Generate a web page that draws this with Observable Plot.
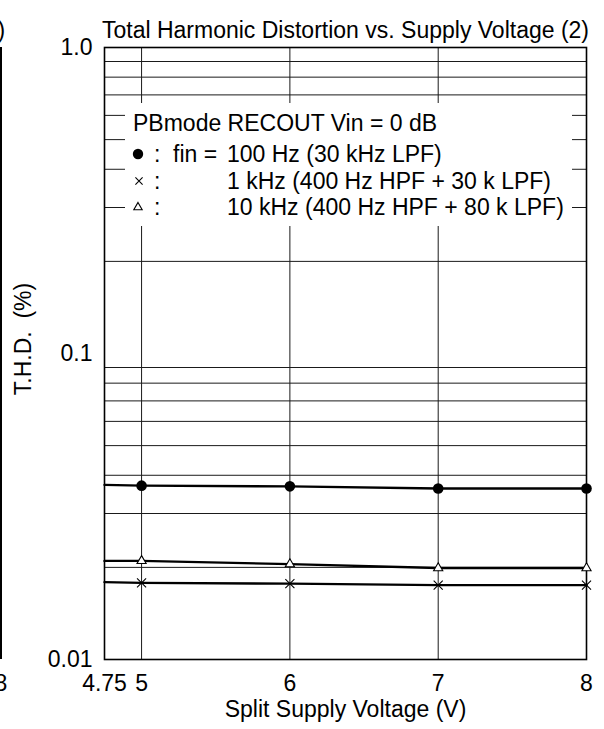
<!DOCTYPE html>
<html><head><meta charset="utf-8">
<script src="https://cdn.jsdelivr.net/npm/d3@7"></script>
<script src="https://cdn.jsdelivr.net/npm/@observablehq/plot@0.6"></script>
<style>
body{margin:0;background:#fff;}
#wrap{position:relative;width:604px;height:729px;overflow:hidden;font-family:"Liberation Sans",Arial,sans-serif;color:#000;background:#fff;}
#wrap svg{display:block;}
#legend{position:absolute;left:125px;top:103px;width:447px;height:123px;background:#fff;font-size:23px;}
.row{position:absolute;height:28px;line-height:28px;white-space:pre;}
.sym{position:absolute;}
#edge{position:absolute;left:0;top:47px;width:1.5px;height:612px;background:#000;}
#ylab{position:absolute;left:23px;top:339px;font-size:23px;line-height:23px;white-space:pre;transform:translate(-50%,-50%) rotate(-90deg);}
</style></head><body><div id="wrap"></div>
<script>
// ---- data ----
const volts = [4.75, 5, 6, 7, 8];
const thdFin100 = [0.0372, 0.0370, 0.0368, 0.0362, 0.0362];
const thd1k = [0.0179, 0.0178, 0.0177, 0.0175, 0.0175];
const thd10k = [0.0210, 0.0210, 0.0205, 0.0199, 0.0199];
const xTicks = [4.75, 5, 6, 7, 8];
const xGrid = [5, 6, 7];
const yTicks = [0.01, 0.1, 1];
const yTickLabels = ["0.01", "0.1", "1.0"];
const yGrid = [0.02, 0.03, 0.04, 0.05, 0.06, 0.07, 0.08, 0.09, 0.2, 0.3, 0.4, 0.5, 0.6, 0.7, 0.8, 0.9];
const title = "Total Harmonic Distortion vs. Supply Voltage (2)";
const xLabel = "Split Supply Voltage (V)";
const yLabel = "T.H.D.  (%)";
const legendTitle = "PBmode RECOUT Vin = 0 dB";
const legendRows = [
  {sym: "dot", pre: "fin =", text: "100 Hz (30 kHz LPF)"},
  {sym: "times", pre: "", text: "1 kHz (400 Hz HPF + 30 k LPF)"},
  {sym: "triangle", pre: "", text: "10 kHz (400 Hz HPF + 80 k LPF)"}
];

const rows = (vals) => volts.map((v, i) => ({v, thd: vals[i]}));
const s100 = rows(thdFin100), s1k = rows(thd1k), s10k = rows(thd10k);
const withMarker = d => d.v >= 5;
const yLabelMap = new Map(yTicks.map((t, i) => [t, yTickLabels[i]]));
const font = "Liberation Sans, Arial, sans-serif";

const chart = Plot.plot({
  width: 604, height: 729,
  marginTop: 47, marginBottom: 70, marginLeft: 104, marginRight: 18,
  style: {fontFamily: font, fontSize: "23px", background: "white", color: "black", overflow: "visible"},
  x: {type: "linear", domain: [4.75, 8]},
  y: {type: "log", domain: [0.01, 1]},
  marks: [
    Plot.ruleY(yGrid, {stroke: "#1a1a1a", strokeWidth: 1}),
    Plot.ruleX(xGrid, {stroke: "#1a1a1a", strokeWidth: 1}),
    Plot.frame({stroke: "black", strokeWidth: 1.6}),
    Plot.axisX({ticks: xTicks, tickSize: 0, tickPadding: 15, fontSize: 23, label: null, tickFormat: d => String(d)}),
    Plot.axisY({ticks: yTicks, tickSize: 0, tickPadding: 12, fontSize: 23, label: null, tickFormat: d => yLabelMap.get(d)}),
    Plot.line(s100, {x: "v", y: "thd", stroke: "black", strokeWidth: 2.4}),
    Plot.line(s10k, {x: "v", y: "thd", stroke: "black", strokeWidth: 2.4}),
    Plot.line(s1k, {x: "v", y: "thd", stroke: "black", strokeWidth: 2.4}),
    Plot.dot(s100.filter(withMarker), {x: "v", y: "thd", r: 5.3, fill: "black", stroke: "none"}),
    Plot.dot(s10k.filter(withMarker), {x: "v", y: "thd", r: 3.4, symbol: "triangle", fill: "white", stroke: "black", strokeWidth: 1.1}),
    Plot.dot(s1k.filter(withMarker), {x: "v", y: "thd", r: 4.2, symbol: "times", stroke: "black", strokeWidth: 1.1}),
    Plot.text([title], {text: d => d, frameAnchor: "top", dy: -25.5, fontSize: 23}),
    Plot.text([xLabel], {text: d => d, frameAnchor: "bottom", dy: 57, fontSize: 23}),
    Plot.text([")"], {text: d => d, frameAnchor: "top-left", dx: -107, dy: -25.5, textAnchor: "start", fontSize: 23}),
    Plot.text(["8"], {text: d => d, frameAnchor: "bottom-left", dx: -110, dy: 15, lineAnchor: "top", textAnchor: "start", fontSize: 23})
  ]
});

const wrap = document.getElementById("wrap");
wrap.appendChild(chart);
const edge = document.createElement("div");
edge.id = "edge";
wrap.appendChild(edge);
const yl = document.createElement("div");
yl.id = "ylab";
yl.textContent = yLabel;
wrap.appendChild(yl);

// legend overlay
const lg = document.createElement("div");
lg.id = "legend";
const t = document.createElement("div");
t.className = "row"; t.style.left = "8px"; t.style.top = "6px"; t.textContent = legendTitle;
lg.appendChild(t);
const rowTops = [37, 64, 90];
const symSvg = {
  dot: '<svg width="14" height="14" viewBox="-7 -7 14 14"><circle r="5.2" fill="black"/></svg>',
  times: '<svg width="14" height="14" viewBox="-7 -7 14 14"><path d="M-3.6,-3.6L3.6,3.6M-3.6,3.6L3.6,-3.6" stroke="black" stroke-width="1.1"/></svg>',
  triangle: '<svg width="14" height="14" viewBox="-7 -7 14 14"><path d="M0,-4.6L4.2,2.8L-4.2,2.8Z" fill="white" stroke="black" stroke-width="1.1"/></svg>'
};
const symX = {dot: 13.3, times: 14.3, triangle: 12.7};
legendRows.forEach((r, i) => {
  const top = rowTops[i];
  const s = document.createElement("div");
  s.className = "sym";
  s.style.left = (symX[r.sym] - 7) + "px";
  s.style.top = (top + 7) + "px";
  s.innerHTML = symSvg[r.sym];
  lg.appendChild(s);
  const c = document.createElement("div");
  c.className = "row"; c.style.left = "29px"; c.style.top = top + "px"; c.textContent = ":";
  lg.appendChild(c);
  if (r.pre) {
    const p = document.createElement("div");
    p.className = "row"; p.style.left = "48px"; p.style.top = top + "px"; p.textContent = r.pre;
    lg.appendChild(p);
  }
  const x = document.createElement("div");
  x.className = "row"; x.style.left = "102px"; x.style.top = top + "px"; x.textContent = r.text;
  lg.appendChild(x);
});
wrap.appendChild(lg);
</script>
</body></html>
